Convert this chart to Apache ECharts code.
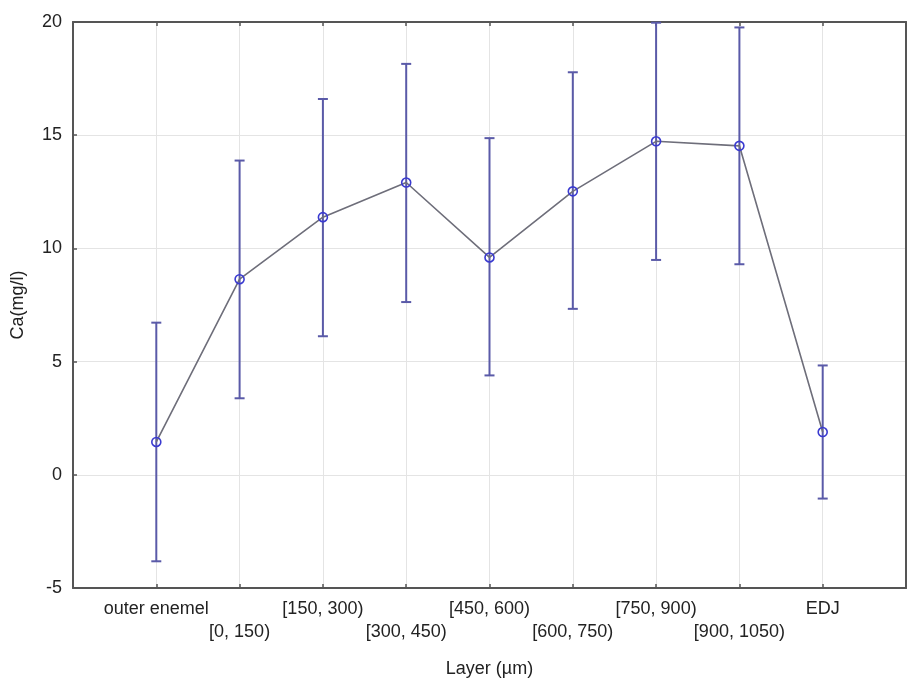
<!DOCTYPE html>
<html>
<head>
<meta charset="utf-8">
<script src="https://cdn.jsdelivr.net/npm/echarts@6/dist/echarts.min.js"></script>
<style>
  html, body { margin: 0; padding: 0; background: #fff; }
  #chart { width: 909px; height: 683px; }
</style>
</head>
<body>
<div id="chart"></div>
<script>
// layers along the x axis
const layers = ['outer enemel', '[0, 150)', '[150, 300)', '[300, 450)', '[450, 600)',
  '[600, 750)', '[750, 900)', '[900, 1050)', 'EDJ']
// mean Ca concentration (mg/l)
const means = [1.45, 8.64, 11.38, 12.91, 9.6, 12.52, 14.73, 14.53, 1.89]
// error bar ends
const lows = [-3.82, 3.38, 6.12, 7.63, 4.39, 7.33, 9.49, 9.3, -1.05]
const highs = [6.72, 13.88, 16.6, 18.15, 14.87, 17.78, 19.97, 19.76, 4.83]

const chart = echarts.init(document.getElementById('chart'))

const font = 'Liberation Sans, Arial, sans-serif'
const axisColor = '#555'
const barColor = '#5a5aa8'

const lineData = means.map((m, i) => [i + 1, m])
const errData = means.map((m, i) => [i + 1, lows[i], highs[i]])

const option = {
  backgroundColor: '#fff',
  animation: false,
  grid: { left: 73, right: 2, top: 22, bottom: 90, containLabel: false },
  xAxis: [
    {
      type: 'value',
      min: 0,
      max: 10,
      interval: 1,
      position: 'bottom',
      name: 'Layer (µm)',
      nameLocation: 'middle',
      nameGap: 72,
      nameTextStyle: { fontFamily: font, fontSize: 18, color: '#222' },
      axisLine: { show: true, onZero: false, lineStyle: { color: axisColor, width: 2 } },
      axisTick: { show: true, inside: true, length: 4, lineStyle: { color: axisColor, width: 1.5 } },
      splitLine: { show: true, lineStyle: { color: '#e4e4e4', width: 1 } },
      axisLabel: {
        fontFamily: font,
        fontSize: 18,
        color: '#222',
        lineHeight: 23,
        margin: 10,
        showMinLabel: true,
        showMaxLabel: true,
        formatter: function (v) {
          const i = Math.round(v) - 1
          if (i < 0 || i >= layers.length) return ''
          return i % 2 === 0 ? layers[i] : '\n' + layers[i]
        }
      }
    },
    {
      type: 'value',
      min: 0,
      max: 10,
      interval: 1,
      position: 'top',
      axisLine: { show: true, onZero: false, lineStyle: { color: axisColor, width: 2 } },
      axisTick: { show: true, inside: true, length: 4, lineStyle: { color: axisColor, width: 1.5 } },
      axisLabel: { show: false },
      splitLine: { show: false }
    }
  ],
  yAxis: [
    {
      type: 'value',
      min: -5,
      max: 20,
      interval: 5,
      name: 'Ca(mg/l)',
      nameLocation: 'middle',
      nameGap: 46,
      nameRotate: 90,
      nameTextStyle: { fontFamily: font, fontSize: 18, color: '#222' },
      axisLine: { show: true, onZero: false, lineStyle: { color: axisColor, width: 2 } },
      axisTick: { show: true, inside: true, length: 4, lineStyle: { color: axisColor, width: 1.5 } },
      splitLine: { show: true, lineStyle: { color: '#e4e4e4', width: 1 } },
      axisLabel: { fontFamily: font, fontSize: 18, color: '#222', margin: 11 }
    },
    {
      type: 'value',
      min: -5,
      max: 20,
      interval: 5,
      position: 'right',
      axisLine: { show: true, onZero: false, lineStyle: { color: axisColor, width: 2 } },
      axisTick: { show: false },
      axisLabel: { show: false },
      splitLine: { show: false }
    }
  ],
  series: [
    {
      type: 'custom',
      name: 'error',
      xAxisIndex: 0,
      yAxisIndex: 0,
      z: 2,
      data: errData,
      renderItem: function (params, api) {
        const x = api.value(0)
        const lo = api.coord([x, api.value(1)])
        const hi = api.coord([x, api.value(2)])
        const hw = 5
        const style = { stroke: barColor, lineWidth: 2 }
        return {
          type: 'group',
          children: [
            { type: 'line', shape: { x1: lo[0], y1: lo[1], x2: hi[0], y2: hi[1] }, style: style },
            { type: 'line', shape: { x1: lo[0] - hw, y1: lo[1], x2: lo[0] + hw, y2: lo[1] }, style: style },
            { type: 'line', shape: { x1: hi[0] - hw, y1: hi[1], x2: hi[0] + hw, y2: hi[1] }, style: style }
          ]
        }
      }
    },
    {
      type: 'line',
      name: 'mean',
      xAxisIndex: 0,
      yAxisIndex: 0,
      z: 3,
      data: lineData,
      symbol: 'circle',
      symbolSize: 9,
      lineStyle: { color: '#6e6e7a', width: 1.6 },
      itemStyle: { color: 'rgba(255,255,255,0)', borderColor: '#3a3ad0', borderWidth: 1.6 }
    }
  ]
}

chart.setOption(option)
</script>
</body>
</html>
